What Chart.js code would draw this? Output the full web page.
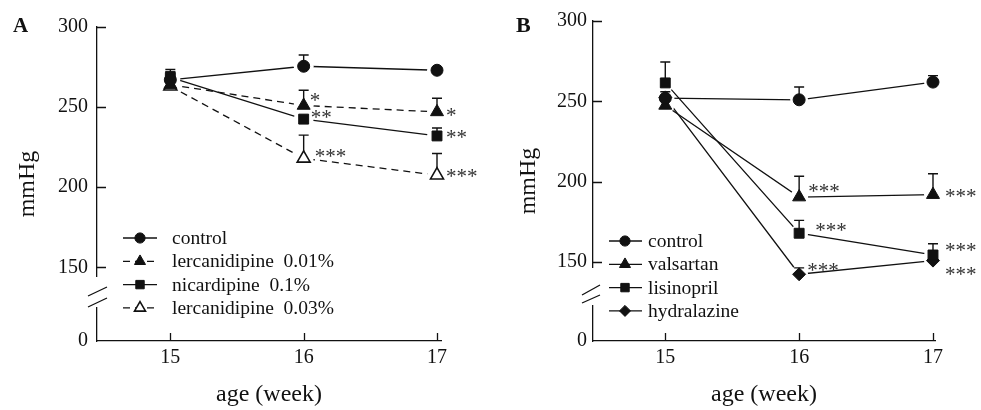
<!DOCTYPE html>
<html>
<head>
<meta charset="utf-8">
<script src="https://cdn.jsdelivr.net/npm/chart.js@4.4.0/dist/chart.umd.min.js"></script>
<style>
  html, body { margin: 0; padding: 0; background: #fff; }
  #wrap { position: relative; width: 981px; height: 410px; }
  canvas { position: absolute; top: 0; }
  #panelA { left: 0; }
  #panelB { left: 490px; }
</style>
</head>
<body>
<div id="wrap">
  <canvas id="panelA" width="490" height="410"></canvas>
  <canvas id="panelB" width="491" height="410"></canvas>
</div>
<script>
// eje x (semanas) y marcas del eje y
const weeks = [15, 16, 17];
const yTicks = [150, 200, 250, 300];

// Panel A
const namesA = ['control', 'lercanidipine  0.01%', 'nicardipine  0.1%', 'lercanidipine  0.03%'];
const controlA = [267, 275.5, 273];
const controlAErr = [5, 7, 0];
const lerc001 = [264, 251, 247];
const lerc001Err = [8, 9.5, 8.5];
const nicard01 = [268.5, 242.5, 232];
const nicard01Err = [5, 0, 5];
const lerc003 = [263, 218, 207.5];
const lerc003Err = [3, 14.5, 13.5];
const sigA = [['', '', ''], ['', '*', '*'], ['', '**', '**'], ['', '***', '***']];

// Panel B
const namesB = ['control', 'valsartan', 'lisinopril', 'hydralazine'];
const controlB = [252, 251, 262];
const controlBErr = [4, 8, 4];
const valsartan = [247.5, 190.5, 192];
const valsartanErr = [0, 13, 13];
const lisinopril = [261.5, 168, 154.5];
const lisinoprilErr = [13, 8, 7];
const hydralazine = [252.5, 142.5, 151];
const hydralazineErr = [0, 4, 6];
const sigB = [['', '', ''], ['', '***', '***'], ['', '***', '***'], ['', '***', '***']];

const FONT = '"Liberation Serif", "Times New Roman", serif';
const INK = '#111';

// estilos de marcador por serie
const stylesA = [
  { style: 'circle', r: 6 },
  { style: 'triangle', r: 7.5, dash: [7, 5] },
  { style: 'rect', r: 7 },
  { style: 'triangle', r: 7.5, dash: [7, 5], open: true }
];
const stylesB = [
  { style: 'circle', r: 6 },
  { style: 'triangle', r: 7.5 },
  { style: 'rect', r: 7 },
  { style: 'rectRot', r: 6.5 }
];

// maquetación de cada panel (posiciones en píxeles del lienzo)
const layoutA = {
  yMin: 104, xMin: 14.45, xMax: 17.03, yWidth: 97, padTop: 27, padRight: 49,
  yLabelPad: 9, yTitlePad: 13, halo: 10,
  letter: 'A', letterX: 13, letterSize: 21,
  legend: { x0: 123, x1: 157, mark: 140, text: 172, y: 238, row: 23.3 },
  brk: { top: 277, bottom: 307, slashes: [[88, 296, 107, 287], [88, 307, 107, 298]] },
  sigOffset: [[null, null, null], [null, [6, -9], [9, 0]], [null, [7, -5], [9, -2]], [null, [11, -5], [9, -2]]]
};
const layoutB = {
  yMin: 101, xMin: 14.46, xMax: 17.015, yWidth: 103, padTop: 21, padRight: 46,
  yLabelPad: 6, yTitlePad: 24, halo: 9,
  letter: 'B', letterX: 26, letterSize: 22,
  legend: { x0: 119, x1: 152, mark: 135, text: 158, y: 241, row: 23.3 },
  brk: { top: 268, bottom: 305, slashes: [[92, 295, 110, 285], [92, 303, 110, 295]] },
  sigOffset: [[null, null, null], [null, [9, -9], [12, -2]], [null, [16, -6], [12, -8]], [null, [8, -7], [12, 10]]]
};

function decor(L, names, series, sig) {
  let hechos = false;
  return {
    id: 'decor',
    beforeDatasetsDraw() { hechos = false; },
    beforeDatasetDraw(chart, args) {
      // antes del primer conjunto de marcadores: huecos blancos y barras de error
      const ds = chart.data.datasets[args.index];
      if (!ds.isMarks || hechos) return;
      hechos = true;
      const { ctx, scales: { y } } = chart;
      const marks = chart.data.datasets
        .map((d, i) => ({ d, meta: chart.getDatasetMeta(i) }))
        .filter(o => o.d.isMarks);
      ctx.save();
      ctx.fillStyle = '#fff';
      marks.forEach(o => o.meta.data.forEach(el => {
        ctx.beginPath();
        ctx.arc(el.x, el.y, L.halo, 0, Math.PI * 2);
        ctx.fill();
      }));
      ctx.strokeStyle = INK;
      ctx.lineWidth = 1.4;
      marks.forEach(o => o.d.errores.forEach((e, i) => {
        if (!e) return;
        const el = o.meta.data[i];
        const y1 = y.getPixelForValue(o.d.data[i].y + e);
        ctx.beginPath();
        ctx.moveTo(el.x, el.y); ctx.lineTo(el.x, y1);
        ctx.moveTo(el.x - 5, y1); ctx.lineTo(el.x + 5, y1);
        ctx.stroke();
      }));
      ctx.restore();
    },
    afterDraw(chart) {
      const { ctx, chartArea: a, scales: { x, y } } = chart;
      ctx.save();
      ctx.strokeStyle = INK;
      ctx.lineWidth = 1.3;

      // marcas hacia dentro
      ctx.beginPath();
      yTicks.forEach(v => {
        const py = Math.round(y.getPixelForValue(v)) + 0.5;
        ctx.moveTo(a.left, py); ctx.lineTo(a.left + 9, py);
      });
      weeks.forEach(v => {
        const px = Math.round(x.getPixelForValue(v)) + 0.5;
        ctx.moveTo(px, a.bottom); ctx.lineTo(px, a.bottom - 8);
      });
      ctx.stroke();

      // corte del eje y
      ctx.fillStyle = '#fff';
      ctx.fillRect(a.left - 3, L.brk.top, 6, L.brk.bottom - L.brk.top);
      ctx.beginPath();
      L.brk.slashes.forEach(s => { ctx.moveTo(s[0], s[1]); ctx.lineTo(s[2], s[3]); });
      ctx.stroke();

      // asteriscos
      ctx.fillStyle = '#333';
      ctx.font = '21px ' + FONT;
      ctx.textAlign = 'left';
      ctx.textBaseline = 'alphabetic';
      sig.forEach((row, si) => row.forEach((txt, i) => {
        if (!txt) return;
        const off = L.sigOffset[si][i];
        const px = x.getPixelForValue(weeks[i]) + off[0];
        const py = y.getPixelForValue(series[si][i]) + off[1];
        ctx.fillText(txt, px, py + 10);
      }));

      // leyenda
      const lg = L.legend;
      chart.data.datasets.filter(d => d.isMarks).forEach((ds, i) => {
        const ly = lg.y + i * lg.row;
        ctx.strokeStyle = INK;
        ctx.lineWidth = 1.3;
        ctx.setLineDash(ds.dash);
        ctx.beginPath();
        ctx.moveTo(lg.x0, ly); ctx.lineTo(lg.x1, ly);
        ctx.stroke();
        ctx.setLineDash([]);
        ctx.fillStyle = ds.pointBackgroundColor;
        ctx.lineWidth = ds.pointBorderWidth;
        Chart.helpers.drawPoint(ctx, {
          pointStyle: ds.pointStyle, radius: ds.pointRadius * 0.85,
          rotation: 0, borderWidth: ds.pointBorderWidth
        }, lg.mark, ly);
        ctx.fillStyle = INK;
        ctx.font = '19.5px ' + FONT;
        ctx.textBaseline = 'middle';
        ctx.fillText(names[i], lg.text, ly + 1);
      });

      // letra del panel
      ctx.fillStyle = INK;
      ctx.font = 'bold ' + L.letterSize + 'px ' + FONT;
      ctx.textBaseline = 'alphabetic';
      ctx.fillText(L.letter, L.letterX, 32);
      ctx.restore();
    }
  };
}

function makeChart(id, names, series, errs, styles, sig, L) {
  const datasets = [];
  series.forEach((vals, i) => {
    const st = styles[i];
    const data = weeks.map((w, k) => ({ x: w, y: vals[k] }));
    // la línea (se dibuja primero)
    datasets.push({
      label: names[i] + ' (línea)',
      data,
      order: 2,
      borderColor: INK,
      borderWidth: 1.3,
      borderDash: st.dash || [],
      tension: 0,
      clip: false,
      pointRadius: 0,
      pointHoverRadius: 0
    });
    // los marcadores
    datasets.push({
      label: names[i],
      data,
      order: 1,
      isMarks: true,
      errores: errs[i],
      dash: st.dash || [],
      showLine: false,
      clip: false,
      pointStyle: st.style,
      pointRadius: st.r,
      pointHoverRadius: st.r,
      pointBackgroundColor: st.open ? '#fff' : INK,
      pointBorderColor: INK,
      pointBorderWidth: st.open ? 1.6 : 1
    });
  });

  return new Chart(document.getElementById(id), {
    type: 'line',
    data: { datasets },
    options: {
      responsive: false,
      animation: false,
      devicePixelRatio: 1,
      layout: { padding: { top: L.padTop, right: L.padRight, left: 0, bottom: 0 } },
      plugins: { legend: { display: false }, tooltip: { enabled: false } },
      scales: {
        x: {
          type: 'linear', min: L.xMin, max: L.xMax,
          afterBuildTicks: s => { s.ticks = weeks.map(v => ({ value: v })); },
          afterFit: s => { s.height = 69; },
          grid: { display: false, drawOnChartArea: false, drawTicks: false },
          border: { display: true, color: INK, width: 1.3 },
          ticks: { padding: 5, color: INK, maxRotation: 0, autoSkip: false, font: { family: FONT, size: 20 } },
          title: { display: true, text: 'age (week)', color: INK, font: { family: FONT, size: 24 }, padding: { top: 0, bottom: 1 } }
        },
        y: {
          type: 'linear', min: L.yMin, max: 300,
          afterBuildTicks: s => { s.ticks = [L.yMin].concat(yTicks).map(v => ({ value: v })); },
          afterFit: s => { s.width = L.yWidth; },
          grid: { display: false, drawOnChartArea: false, drawTicks: false },
          border: { display: true, color: INK, width: 1.3 },
          ticks: {
            padding: L.yLabelPad, color: INK, autoSkip: false, font: { family: FONT, size: 20 },
            callback: v => (v === L.yMin ? '0' : String(v))
          },
          title: { display: true, text: 'mmHg', color: INK, font: { family: FONT, size: 24 }, padding: { top: L.yTitlePad, bottom: 0 } }
        }
      }
    },
    plugins: [decor(L, names, series, sig)]
  });
}

makeChart('panelA', namesA,
  [controlA, lerc001, nicard01, lerc003],
  [controlAErr, lerc001Err, nicard01Err, lerc003Err],
  stylesA, sigA, layoutA);

makeChart('panelB', namesB,
  [controlB, valsartan, lisinopril, hydralazine],
  [controlBErr, valsartanErr, lisinoprilErr, hydralazineErr],
  stylesB, sigB, layoutB);
</script>
</body>
</html>
